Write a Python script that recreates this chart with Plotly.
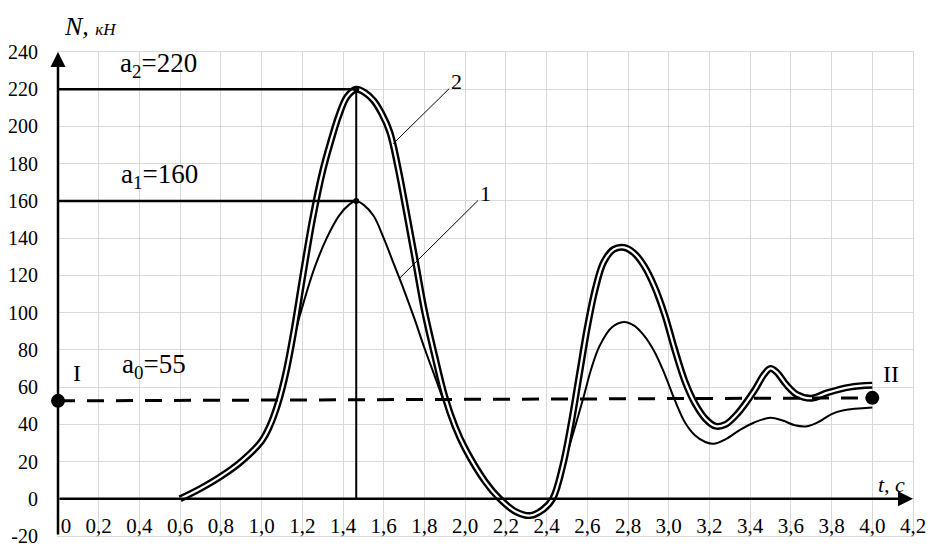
import plotly.graph_objects as go

# Curve 1 (thin line), t in s, N in kN
t1 = [0.6, 0.7, 0.8, 0.9, 1.0, 1.04, 1.08, 1.12, 1.16, 1.2, 1.26, 1.32, 1.38, 1.43, 1.465,
      1.5, 1.55, 1.6, 1.65, 1.7, 1.75, 1.8, 1.85, 1.89, 1.95, 2.0, 2.1, 2.17, 2.25, 2.32,
      2.38, 2.43, 2.48, 2.53, 2.58, 2.62, 2.66, 2.72, 2.78, 2.83, 2.88, 2.93, 2.98, 3.03,
      3.08, 3.13, 3.18, 3.22, 3.28, 3.35, 3.42, 3.5, 3.56, 3.62, 3.68, 3.74, 3.8, 3.86, 4.0]
n1 = [0, 5.5, 12, 20, 31, 39, 51, 67, 87, 103, 124, 140, 152, 158, 160,
      158, 152, 140, 126, 112, 97, 81, 66, 54, 38, 27, 9, 0, -7, -9,
      -6, 0, 17, 35, 54, 70, 82, 92, 95, 93, 87.5, 79, 67, 53,
      41, 34, 30.5, 29.5, 32, 37, 41, 43.5, 42, 39.5, 39, 41.5, 45.5, 47.5, 49]

# Curve 2 (double line)
t2 = [0.6, 0.7, 0.8, 0.9, 1.0, 1.04, 1.08, 1.12, 1.16, 1.2, 1.25, 1.3, 1.34, 1.38, 1.42,
      1.465, 1.51, 1.55, 1.59, 1.63, 1.67, 1.72, 1.76, 1.8, 1.85, 1.9, 1.95, 2.0, 2.1, 2.17,
      2.25, 2.32, 2.38, 2.43, 2.48, 2.52, 2.56, 2.6, 2.64, 2.68, 2.73, 2.78, 2.83, 2.88, 2.93,
      2.98, 3.03, 3.08, 3.13, 3.18, 3.23, 3.28, 3.34, 3.42, 3.47, 3.5, 3.53, 3.58, 3.63, 3.7,
      3.78, 3.89, 4.0]
n2 = [0, 5.5, 12, 20, 31, 39, 51, 68, 91, 118, 150, 176, 192, 206, 216,
      220, 218, 214, 207, 197, 178, 149, 125, 101, 77, 55, 39, 27, 9, 0,
      -7, -9, -6, 0, 18, 40, 66, 92, 113, 127, 134, 135, 132, 125, 114,
      99, 80, 63, 51, 43, 39, 40, 46, 58, 67, 70, 68, 61, 56, 54,
      57, 60, 61]

# level line I - II
t0 = [0, 4.0]
n0 = [52.6, 54.2]

t_peak = 1.465
a0, a1, a2 = 55, 160, 220

x_tickvals = [0, 0.2, 0.4, 0.6, 0.8, 1.0, 1.2, 1.4, 1.6, 1.8, 2.0, 2.2, 2.4, 2.6, 2.8,
              3.0, 3.2, 3.4, 3.6, 3.8, 4.0, 4.2]
x_ticktext = ["\u2002\u00a00", "0,2", "0,4", "0,6", "0,8", "1,0", "1,2", "1,4", "1,6", "1,8", "2,0",
              "2,2", "2,4", "2,6", "2,8", "3,0", "3,2", "3,4", "3,6", "3,8", "4,0", "4,2"]
y_tickvals = [-20, 0, 20, 40, 60, 80, 100, 120, 140, 160, 180, 200, 220, 240]
y_ticktext = ["-20", "0", "20", "40", "60", "80", "100", "120", "140", "160", "180",
              "200", "220", "240"]

FONT = "Liberation Serif"

fig = go.Figure()

# curve 1 first, so curve 2 covers it where they coincide
fig.add_trace(go.Scatter(x=t1, y=n1, mode="lines",
                         line=dict(color="black", width=2, shape="spline")))
# curve 2: black stroke with white core -> double line
fig.add_trace(go.Scatter(x=t2, y=n2, mode="lines",
                         line=dict(color="black", width=7, shape="spline")))
fig.add_trace(go.Scatter(x=t2, y=n2, mode="lines",
                         line=dict(color="white", width=2.2, shape="spline")))

# peak levels
fig.add_trace(go.Scatter(x=[0, t_peak], y=[a2, a2], mode="lines",
                         line=dict(color="black", width=2.5)))
fig.add_trace(go.Scatter(x=[0, t_peak], y=[a1, a1], mode="lines",
                         line=dict(color="black", width=2.5)))
fig.add_trace(go.Scatter(x=[t_peak, t_peak], y=[0, a2], mode="lines",
                         line=dict(color="black", width=2)))
fig.add_trace(go.Scatter(x=[t_peak, t_peak], y=[a1, a2], mode="markers",
                         marker=dict(color="black", size=6)))

# dashed line I-II
fig.add_trace(go.Scatter(x=t0, y=n0, mode="lines",
                         line=dict(color="black", width=3, dash="17px,12px")))
fig.add_trace(go.Scatter(x=t0, y=n0, mode="markers",
                         marker=dict(color="black", size=14), cliponaxis=False))

# axes with arrows
fig.add_annotation(x=4.2, y=0, ax=0, ay=0, xref="x", yref="y", axref="x", ayref="y",
                   text="", showarrow=True, arrowhead=2, arrowsize=1.2, arrowwidth=2.5,
                   arrowcolor="black", standoff=0)
fig.add_annotation(x=0, y=240, ax=0, ay=-20, xref="x", yref="y", axref="x", ayref="y",
                   text="", showarrow=True, arrowhead=2, arrowsize=1.2, arrowwidth=2.5,
                   arrowcolor="black", standoff=0)

# curve labels with leader lines
fig.add_annotation(x=1.646, y=190.7, ax=1.956, ay=224, xref="x", yref="y", axref="x", ayref="y",
                   text="2", showarrow=True, arrowhead=0, arrowwidth=1, arrowcolor="black",
                   font=dict(family=FONT, size=22, color="black"))
fig.add_annotation(x=1.68, y=118.7, ax=2.098, ay=164, xref="x", yref="y", axref="x", ayref="y",
                   text="1", showarrow=True, arrowhead=0, arrowwidth=1, arrowcolor="black",
                   font=dict(family=FONT, size=22, color="black"))

# text labels
labels = [
    (0.295, 233, f"a<sub>2</sub>={a2}", 27, "left"),
    (0.30, 173.5, f"a<sub>1</sub>={a1}", 27, "left"),
    (0.305, 71.5, f"a<sub>0</sub>={a0}", 27, "left"),
    (0.093, 67.5, "I", 24, "center"),
    (4.09, 67, "II", 24, "center"),
]
for x, y, txt, size, anchor in labels:
    fig.add_annotation(x=x, y=y, xref="x", yref="y", text=txt, showarrow=False,
                       xanchor=anchor, yanchor="middle",
                       font=dict(family=FONT, size=size, color="black"))

fig.add_annotation(x=0.02, y=1.052, xref="x", yref="paper", showarrow=False,
                   xanchor="left", yanchor="middle",
                   text="<i>N,</i> <i><span style='font-size:17px'>кН</span></i>",
                   font=dict(family=FONT, size=26, color="black"))
fig.add_annotation(x=4.093, y=7.5, xref="x", yref="y", showarrow=False,
                   text="<i>t, c</i>", font=dict(family=FONT, size=22, color="black"))

fig.update_xaxes(range=[0, 4.2], tickvals=x_tickvals, ticktext=x_ticktext,
                 showgrid=True, gridcolor="#d9d9d9", gridwidth=1, zeroline=False,
                 showline=True, mirror=True, linecolor="#d9d9d9", linewidth=1,
                 ticklabelposition="inside", ticklabeloverflow="allow", automargin=False,
                 tickfont=dict(family=FONT, size=21, color="black"))
fig.update_yaxes(range=[-20, 240], tickvals=y_tickvals, ticktext=y_ticktext,
                 showgrid=True, gridcolor="#d9d9d9", gridwidth=1, zeroline=False,
                 showline=True, mirror=True, linecolor="#d9d9d9", linewidth=1,
                 ticklabelstandoff=15, automargin=False,
                 tickfont=dict(family=FONT, size=20, color="black"))

# the page body adds an 8 px offset, margins compensate for it
fig.update_layout(width=939, height=552, showlegend=False,
                  margin=dict(l=50, r=34, t=44, b=24),
                  plot_bgcolor="white", paper_bgcolor="white")

fig.write_html("out.html")
